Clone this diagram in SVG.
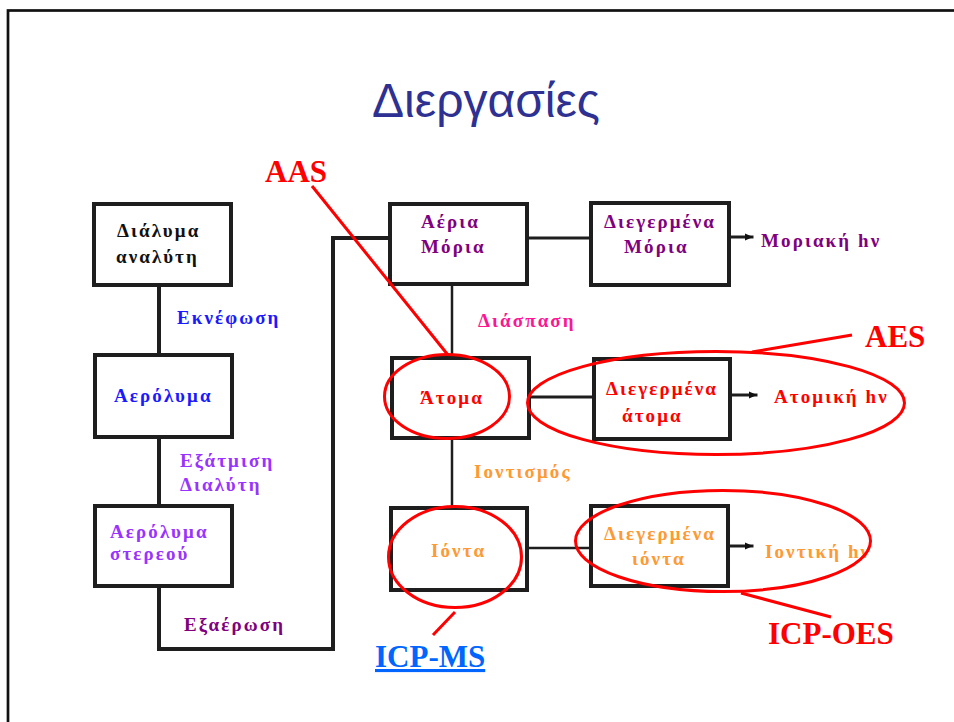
<svg xmlns="http://www.w3.org/2000/svg" width="954" height="722" viewBox="0 0 954 722">
<defs>
<style>
.box{fill:#fff;stroke:#1e1e1e;stroke-width:4}
.t{font-family:"Liberation Serif","Times New Roman",serif;font-weight:bold;font-size:19px;letter-spacing:2.1px}
.c{fill:none;stroke:#1e1e1e;stroke-linecap:square}
.r{fill:none;stroke:#ff0000;stroke-width:3}
.lab{font-family:"Liberation Serif","Times New Roman",serif;font-weight:bold;font-size:31px;fill:#ff0000}
.blk{fill:#111}.blu{fill:#1a1aff}.vio{fill:#9933ff}.pur{fill:#800080}.pnk{fill:#ff1493}.red{fill:#ff0000}.org{fill:#ff9933}
</style>
<marker id="ah" markerWidth="8" markerHeight="8" refX="7" refY="4" orient="auto" markerUnits="userSpaceOnUse">
<path d="M0,0.5 L8,4 L0,7.5 Z" fill="#111"/>
</marker>
</defs>
<rect x="0" y="0" width="954" height="722" fill="#fff"/>
<rect x="8" y="10.5" width="970" height="730" fill="none" stroke="#111" stroke-width="2.7"/>
<text x="486" y="117" text-anchor="middle" font-family="'Liberation Sans',Arial,sans-serif" font-size="48" fill="#2e3192">Διεργασίες</text>

<g id="connectors">
<path class="c" stroke-width="4" d="M159,287 V353 M159,439 V504 M159,588 V649 H333 V238 H388"/>
<path class="c" stroke-width="3" d="M529,238 H589"/>
<path class="c" stroke-width="2.5" d="M452,286 V356"/>
<path class="c" stroke-width="3" d="M531,397 H592"/>
<path class="c" stroke-width="2.5" d="M452,440 V506"/>
<path class="c" stroke-width="2.5" d="M529,548 H589"/>
<path class="c" stroke-width="3" d="M731,237 H752" marker-end="url(#ah)"/>
<path class="c" stroke-width="3" d="M732,395 H756" marker-end="url(#ah)"/>
<path class="c" stroke-width="3" d="M730,546 H752" marker-end="url(#ah)"/>
</g>

<g id="n-dialyma"><rect class="box" x="94" y="204" width="137" height="81"/>
<text class="t blk" x="117" y="237">Διάλυμα</text><text class="t blk" x="116" y="263">αναλύτη</text></g>
<g id="n-aerolyma"><rect class="box" x="95" y="355" width="137" height="82"/>
<text class="t blu" x="114" y="402">Αερόλυμα</text></g>
<g id="n-aerolyma-stereou"><rect class="box" x="95" y="506" width="137" height="80"/>
<text class="t vio" x="110" y="538">Αερόλυμα</text><text class="t vio" x="110" y="560">στερεού</text></g>
<g id="n-aeria-moria"><rect class="box" x="390" y="204" width="137" height="80"/>
<text class="t pur" x="421" y="228">Αέρια</text><text class="t pur" x="421" y="253">Μόρια</text></g>
<g id="n-diegermena-moria"><rect class="box" x="591" y="203" width="138" height="82"/>
<text class="t pur" x="604" y="228">Διεγερμένα</text><text class="t pur" x="624" y="253">Μόρια</text></g>
<g id="n-atoma"><rect class="box" x="392" y="358" width="137" height="80"/>
<text class="t red" x="420" y="404">Άτομα</text></g>
<g id="n-diegermena-atoma"><rect class="box" x="594" y="359" width="136" height="80"/>
<text class="t red" x="606" y="395">Διεγερμένα</text><text class="t red" x="622" y="422">άτομα</text></g>
<g id="n-ionta"><rect class="box" x="391" y="508" width="136" height="82"/>
<text class="t org" x="431" y="557">Ιόντα</text></g>
<g id="n-diegermena-ionta"><rect class="box" x="591" y="506" width="137" height="80"/>
<text class="t org" x="604" y="540">Διεγερμένα</text><text class="t org" x="632" y="565">ιόντα</text></g>

<g id="edge-labels">
<text class="t blu" x="177" y="324">Εκνέφωση</text>
<text class="t vio" x="180" y="467">Εξάτμιση</text>
<text class="t vio" x="180" y="491">Διαλύτη</text>
<text class="t pur" x="184" y="631">Εξαέρωση</text>
<text class="t pnk" x="478" y="327">Διάσπαση</text>
<text class="t org" x="474" y="478">Ιοντισμός</text>
<text class="t pur" x="761" y="247">Μοριακή hν</text>
<text class="t red" x="774" y="403">Ατομική hν</text>
<text class="t org" x="765" y="558">Ιοντική hν</text>
</g>

<g id="annotations">
<ellipse class="r" cx="447" cy="396.5" rx="62.5" ry="42"/>
<ellipse class="r" cx="716" cy="403" rx="188.5" ry="51.5"/>
<ellipse class="r" cx="455" cy="557" rx="66.5" ry="50.5"/>
<ellipse class="r" cx="723" cy="541" rx="147.5" ry="50.5"/>
<path class="r" d="M312,186 L448,355 M752,352 L852,335 M741,593 L831,617 M455,612 L433,635"/>
<text class="lab" x="265" y="182">AAS</text>
<text class="lab" x="865" y="347">AES</text>
<text class="lab" x="768" y="644">ICP-OES</text>
<text class="lab" x="375" y="667" style="fill:#0066ff" text-decoration="underline">ICP-MS</text>
</g>
</svg>
